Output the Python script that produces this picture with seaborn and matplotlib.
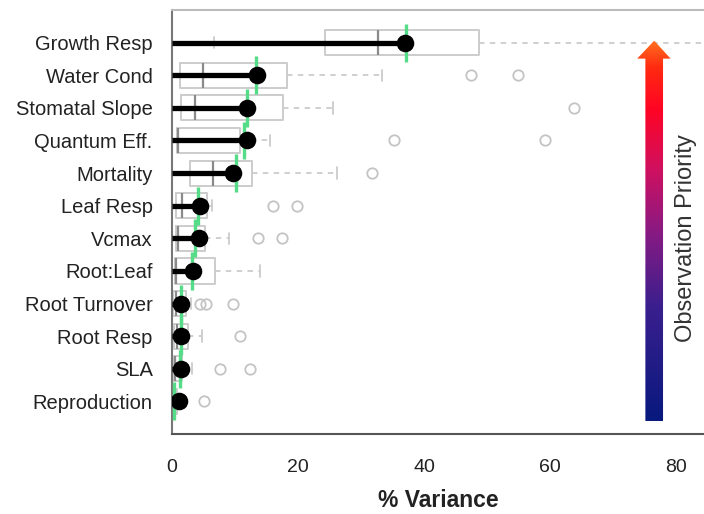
import numpy as np
import seaborn as sns
import matplotlib.pyplot as plt
from matplotlib.colors import LinearSegmentedColormap
from matplotlib.patches import Polygon

# parameters, top to bottom
labels = ["Growth Resp", "Water Cond", "Stomatal Slope", "Quantum Eff.", "Mortality",
          "Leaf Resp", "Vcmax", "Root:Leaf", "Root Turnover", "Root Resp", "SLA",
          "Reproduction"]
# % variance (black lollipops)
variance = [37.0, 13.5, 11.9, 11.9, 9.7, 4.4, 4.3, 3.3, 1.4, 1.4, 1.4, 1.1]
# second estimate (green ticks)
green_est = [37.1, 13.3, 11.9, 11.4, 10.2, 4.1, 3.6, 3.2, 1.5, 1.4, 1.3, 0.3]

# box summaries
whis_lo = [6.7, 0.0, 0.0, 0.0, 0.0, 0.0, 0.0, 0.0, 0.0, 0.0, 0.0, 0.0]
q1 = [24.3, 1.2, 1.4, 0.8, 2.9, 0.7, 0.6, 0.5, 0.2, 0.3, 0.2, 0.1]
med = [32.7, 4.9, 3.7, 1.0, 6.5, 1.6, 1.0, 0.6, 0.6, 0.8, 0.5, 0.3]
q3 = [48.7, 18.3, 17.6, 10.8, 12.7, 5.5, 5.2, 6.8, 2.2, 2.6, 1.6, 0.8]
whis_hi = [90.0, 33.3, 25.5, 15.6, 26.2, 6.3, 9.0, 14.0, 3.0, 4.8, 3.2, 1.8]
outliers = [[], [47.4, 54.9], [63.7], [35.2, 59.2], [31.7], [16.0, 19.8],
            [13.7, 17.5], [], [4.4, 5.4, 9.7], [10.8], [7.6, 12.4], [5.1]]

sns.set_theme(style="white")
plt.rcParams['font.family'] = ['Liberation Sans', 'DejaVu Sans']

fig = plt.figure(figsize=(7.04, 5.14), dpi=100)
ax = fig.add_axes([0.2443, 0.1556, 0.7557, 0.8249])

pos = np.arange(len(labels))
stats = [dict(whislo=whis_lo[i], q1=q1[i], med=med[i], q3=q3[i], whishi=whis_hi[i],
              fliers=outliers[i]) for i in pos]
ax.bxp(stats, positions=pos, orientation='horizontal', widths=0.77, capwidths=0.35,
       patch_artist=False,
       boxprops=dict(color='#cccccc', linewidth=1.4),
       medianprops=dict(color='#8a8a8a', linewidth=1.6),
       whiskerprops=dict(color='#cccccc', linewidth=1.3, linestyle=(0, (3, 3))),
       capprops=dict(color='#cccccc', linewidth=1.3),
       flierprops=dict(marker='o', markerfacecolor='none', markeredgecolor='#c4c4c4',
                       markersize=7.5, markeredgewidth=1.3),
       zorder=2)

# green ticks
for i in pos:
    ax.plot([green_est[i], green_est[i]], [i - 0.58, i + 0.58], color='#55dc88',
            linewidth=2.4, zorder=3, solid_capstyle='butt')

# lollipops
ax.hlines(pos, 0, variance, color='black', linewidth=3.8, zorder=4)
sns.scatterplot(x=variance, y=pos, ax=ax, color='black', s=160, edgecolor='black',
                linewidth=0, zorder=5)

ax.set_xlim(0, 84.4)
ax.set_ylim(12.0, -1.0)

# gradient arrow "Observation Priority"
cmap = LinearSegmentedColormap.from_list(
    'prio', [(0.0, '#08197e'), (0.3, '#3a1f8e'), (0.5, '#8a1a82'),
             (0.66, '#cf1060'), (0.82, '#ff0424'), (0.93, '#ff2a10'), (1.0, '#ff7020')])
grad = np.linspace(0, 1, 256).reshape(-1, 1)
y_bot, y_head, y_tip = 11.6, 0.49, -0.06
im = ax.imshow(grad, cmap=cmap, aspect='auto', origin='lower',
               extent=(73.7, 79.2, y_bot, y_tip), zorder=6, interpolation='bilinear')
arrow = Polygon([(75.1, y_bot), (77.9, y_bot), (77.9, y_head), (79.1, y_head),
                 (76.5, y_tip), (73.8, y_head), (75.1, y_head)],
                closed=True, transform=ax.transData, facecolor='none', edgecolor='none')
ax.add_patch(arrow)
im.set_clip_path(arrow)
ax.text(81.6, 6.0, 'Observation Priority', rotation=90, ha='center', va='center',
        fontsize=17, color='#333333')

ax.set_xlim(0, 84.4)
ax.set_ylim(12.0, -1.0)

ax.set_yticks(pos)
ax.set_yticklabels(labels)
ax.set_xticks([0, 20, 40, 60, 80])
ax.tick_params(axis='both', which='both', length=6, width=1, color='#888888',
               labelcolor='#222222')
ax.tick_params(axis='y', labelsize=14.5, pad=8)
ax.tick_params(axis='x', labelsize=14, pad=12)
ax.spines['right'].set_visible(False)
ax.spines['top'].set_color('#bbbbbb')
ax.spines['left'].set_color('#777777')
ax.spines['bottom'].set_color('#555555')
for s in ['left', 'bottom', 'top']:
    ax.spines[s].set_linewidth(1.5)

ax.set_xlabel('% Variance', fontsize=16.5, fontweight='bold', color='#222222', labelpad=9)
ax.set_ylabel('')

plt.savefig('out.png', dpi=100)
